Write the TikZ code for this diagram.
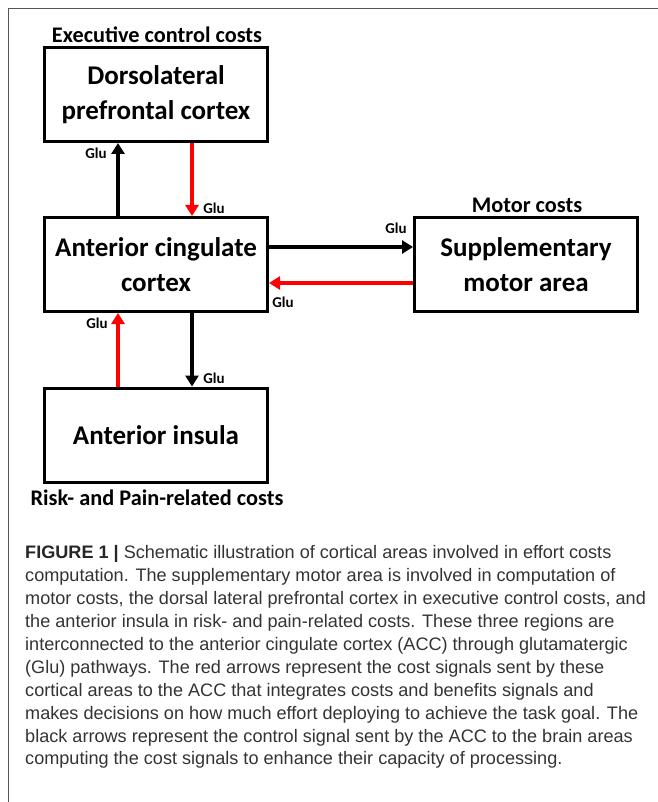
\documentclass[tikz,border=0pt]{standalone}
\usepackage{fontspec}
\setmainfont{Carlito}
\newfontfamily\capfont{Liberation Sans}
\usetikzlibrary{arrows.meta}
\definecolor{capgray}{HTML}{333333}
\definecolor{framegray}{HTML}{555555}
\definecolor{sigred}{HTML}{FF0000}
\tikzset{
  region/.style={draw=black, line width=3pt, minimum width=223pt, minimum height=94pt,
    inner sep=0pt, align=center, font=\bfseries\fontsize{27}{35}\selectfont},
  costlabel/.style={font=\bfseries\fontsize{22.3}{24}\selectfont, inner sep=0pt},
  glulabel/.style={font=\bfseries\fontsize{15}{16}\selectfont, inner sep=0pt},
  ctrl/.style={draw=black, line width=4pt, -{Triangle[width=13pt,length=11pt]}},
  costsig/.style={draw=sigred, line width=4pt, -{Triangle[width=13pt,length=11pt]}},
  capline/.style={anchor=base west, inner sep=0pt, text=capgray, font=\capfont\fontsize{18.1}{22}\selectfont}
}
\begin{document}
\begin{tikzpicture}[x=1pt,y=-1pt]
\useasboundingbox (0,0) rectangle (657,802);
% frame
\draw[framegray, line width=1.5pt] (8.5,805) -- (8.5,8.5) -- (660,8.5);

% regions
\node[region] (dlpfc) at (156,94.5) {Dorsolateral\\prefrontal cortex};
\node[region] (acc) at (156,264.5) {Anterior cingulate\\cortex};
\node[region] (sma) at (526,264.5) {Supplementary\\motor area};
\node[region] (ai) at (156,435) {Anterior insula};

% cost labels
\node[costlabel] (execl) at (157,35) {Executive control costs};
\node[costlabel] (motorl) at (527,205) {Motor costs};
\node[costlabel] (riskl) at (157,498) {Risk- and Pain-related costs};

% connectors
\draw[ctrl] ([xshift=-38pt]acc.north) -- ([xshift=-38pt]dlpfc.south);
\draw[costsig] ([xshift=36pt]dlpfc.south) -- ([xshift=36pt]acc.north);
\draw[ctrl] ([yshift=17.5pt]acc.east) -- ([yshift=17.5pt]sma.west);
\draw[costsig] ([yshift=-18.5pt]sma.west) -- ([yshift=-18.5pt]acc.east);
\draw[costsig] ([xshift=-38pt]ai.north) -- ([xshift=-38pt]acc.south);
\draw[ctrl] ([xshift=36pt]acc.south) -- ([xshift=36pt]ai.north);

% Glu labels
\node[glulabel] (g1) at (96,153) {Glu};
\node[glulabel] (g2) at (214,208) {Glu};
\node[glulabel] (g3) at (396,228) {Glu};
\node[glulabel] (g4) at (283,302) {Glu};
\node[glulabel] (g5) at (97,323) {Glu};
\node[glulabel] (g6) at (214,378) {Glu};

% caption
\node[capline] (c1) at (25,558.4) {\textcolor{black!85}{\bfseries FIGURE 1 |} Schematic illustration of cortical areas involved in effort costs};
\node[capline] (c2) at (25,581.35) {computation. The supplementary motor area is involved in computation of};
\node[capline] (c3) at (25,604.3) {motor costs, the dorsal lateral prefrontal cortex in executive control costs, and};
\node[capline] (c4) at (25,627.25) {the anterior insula in risk- and pain-related costs. These three regions are};
\node[capline] (c5) at (25,650.2) {interconnected to the anterior cingulate cortex (ACC) through glutamatergic};
\node[capline] (c6) at (25,673.15) {(Glu) pathways. The red arrows represent the cost signals sent by these};
\node[capline] (c7) at (25,696.1) {cortical areas to the ACC that integrates costs and benefits signals and};
\node[capline] (c8) at (25,719.05) {makes decisions on how much effort deploying to achieve the task goal. The};
\node[capline] (c9) at (25,742) {black arrows represent the control signal sent by the ACC to the brain areas};
\node[capline] (c10) at (25,764.95) {computing the cost signals to enhance their capacity of processing.};
\end{tikzpicture}
\end{document}
